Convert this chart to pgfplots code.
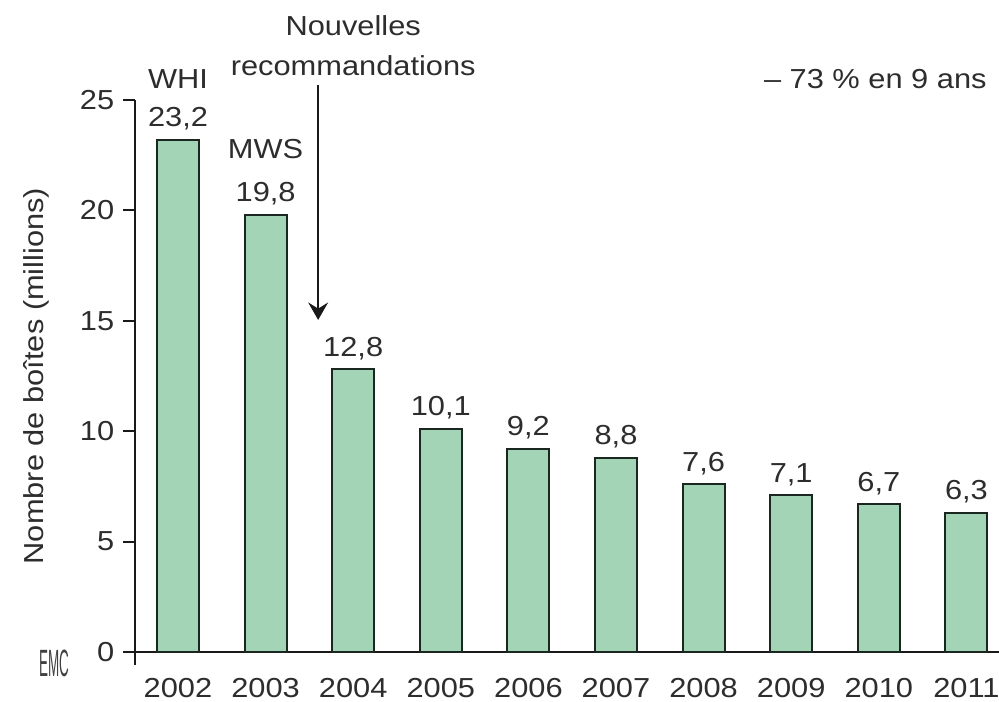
\documentclass[border=0pt]{standalone}
\usepackage{fontspec}
\setmainfont[FakeStretch=1.12]{Liberation Sans}
\usepackage{pgfplots}
\pgfplotsset{compat=1.18}
\usetikzlibrary{arrows.meta}

\definecolor{barfill}{RGB}{163,212,181}
\definecolor{barline}{RGB}{28,38,32}
\definecolor{inktext}{RGB}{45,45,45}

\newcommand{\chartfont}{\fontsize{11}{13}\selectfont}

\begin{document}
\begin{tikzpicture}[font=\chartfont]
\begin{axis}[
  at={(71.2pt,-260.8pt)}, anchor=origin,
  x=35.04pt, y=8.832pt,
  xmin=-0.49, xmax=9.37, ymin=0, ymax=25,
  clip=false,
  axis x line=bottom, axis y line=left,
  axis line style={-, line width=0.8pt, black!90},
  ytick={0,5,10,15,20,25},
  ytick align=outside,
  major tick length=4.8pt,
  ytick style={line width=0.8pt, black!90},
  xtick={0,...,9},
  xticklabels={2002,2003,2004,2005,2006,2007,2008,2009,2010,2011},
  xtick style={draw=none},
  /pgf/number format/assume math mode=true,
  tick label style={font=\chartfont, text=inktext},
  yticklabel style={anchor=east},
  xticklabel style={anchor=base, inner sep=0pt, yshift=-13.4pt},
  ylabel={Nombre de boîtes (millions)},
  ylabel style={at={(rel axis cs:-0.1146,0.5)}, anchor=center, font=\chartfont, text=inktext},
  ybar,
  bar width=16.8pt,
  nodes near coords={\pgfmathprintnumber[fixed,fixed zerofill,precision=1,use comma]{\pgfplotspointmeta}},
  every node near coord/.append style={anchor=base, yshift=5.2pt, font=\chartfont, text=inktext},
]
\addplot[fill=barfill, draw=barline, line width=0.8pt] coordinates {
  (0,23.2) (1,19.8) (2,12.8) (3,10.1) (4,9.2)
  (5,8.8) (6,7.6) (7,7.1) (8,6.7) (9,6.3)
};

% short stub of the y axis below zero
\draw[line width=0.8pt, black!90] (axis cs:-0.49,0) -- (axis cs:-0.49,-0.59);

% study markers and annotations
\node[anchor=base, text=inktext] at (axis cs:0,25.54) {WHI};
\node[anchor=base, text=inktext] at (axis cs:1,22.37) {MWS};
\node[anchor=base, text=inktext] at (axis cs:2,27.9) {Nouvelles};
\node[anchor=base, text=inktext] at (axis cs:2,26.13) {recommandations};
\draw[-{Stealth[length=7pt,width=8pt,inset=2.5pt]}, line width=0.6pt, black!90]
  (axis cs:1.6,25.68) -- (axis cs:1.6,15.04);
\node[anchor=base, text=inktext] at (axis cs:7.96,25.5) {– 73 \% en 9 ans};
\node[text=black!75, font=\fontsize{8}{9}\selectfont] at (axis cs:-1.415,-0.5)
  {\scalebox{0.6}[1.9]{EMC}};
\end{axis}
\pgfresetboundingbox
\useasboundingbox (0pt,0pt) rectangle (399.6pt,-280.8pt);
\end{tikzpicture}
\end{document}
